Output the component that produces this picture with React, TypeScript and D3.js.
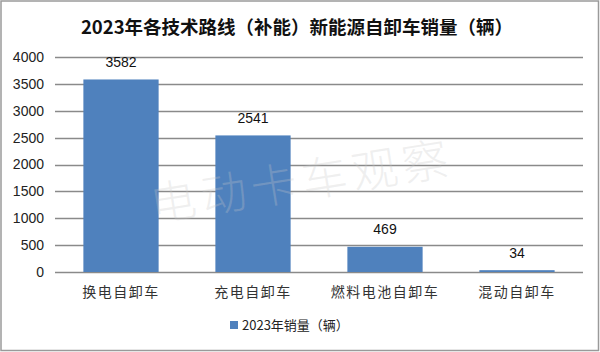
import React from "react";
import * as d3 from "d3";

// chart data
const categories = ["换电自卸车", "充电自卸车", "燃料电池自卸车", "混动自卸车"];
const sales2023 = [3582, 2541, 469, 34];
const yTicks = [0, 500, 1000, 1500, 2000, 2500, 3000, 3500, 4000];
const title = "2023年各技术路线（补能）新能源自卸车销量（辆）";
const seriesName = "2023年销量（辆）";
const watermark = "电动卡车观察";

const W = 600;
const H = 352;
const plot = { left: 55, right: 583, top: 57, bottom: 272 };
const barColor = "#4f81bd";
const gridColor = "#8a8a8a";
const numFont = "'Liberation Sans', Arial, sans-serif";
const cjkFont = "'Noto Sans CJK SC', sans-serif";

export default function App() {
  const x = d3
    .scaleBand<string>()
    .domain(categories)
    .range([plot.left, plot.right])
    .padding(0);
  const y = d3.scaleLinear().domain([0, 4000]).range([plot.bottom, plot.top]);
  const barW = x.bandwidth() * 0.57;

  return (
    <svg
      width={W}
      height={H}
      style={{ position: "absolute", left: 0, top: 0, background: "#fff" }}
    >
      {/* outer frame */}
      <rect x={1} y={1} width={W - 2.5} height={H - 2.5} fill="#fff" stroke="#9a9a9a" strokeWidth={1.5} />

      <text
        x={297}
        y={34}
        textAnchor="middle"
        fontFamily={cjkFont}
        fontWeight={700}
        fontSize={18.5}
        fill="#111"
      >
        {title}
      </text>

      {/* gridlines + y labels */}
      {yTicks.map((t) => (
        <g key={t}>
          <line
            x1={plot.left}
            x2={plot.right}
            y1={Math.round(y(t)) + 0.5}
            y2={Math.round(y(t)) + 0.5}
            stroke={gridColor}
            strokeWidth={1.3}
          />
          <text
            x={44}
            y={y(t)}
            dy="0.35em"
            textAnchor="end"
            fontFamily={numFont}
            fontSize={14}
            fill="#222"
          >
            {t}
          </text>
        </g>
      ))}

      {/* bars */}
      {categories.map((c, i) => {
        const cx = (x(c) as number) + x.bandwidth() / 2;
        return (
          <g key={c}>
            <rect
              x={cx - barW / 2}
              y={y(sales2023[i])}
              width={barW}
              height={y(0) - y(sales2023[i])}
              fill={barColor}
            />
            <text
              x={cx}
              y={y(sales2023[i]) - 12.5}
              textAnchor="middle"
              fontFamily={numFont}
              fontSize={14}
              fill="#111"
            >
              {sales2023[i]}
            </text>
            <text
              x={cx}
              y={297}
              textAnchor="middle"
              fontFamily={cjkFont}
              fontSize={14}
              letterSpacing={1.5}
              fill="#333"
            >
              {c}
            </text>
          </g>
        );
      })}

      {/* watermark */}
      <text
        x={301}
        y={178}
        transform="rotate(-9 301 178)"
        textAnchor="middle"
        dominantBaseline="central"
        fontFamily={cjkFont}
        fontWeight={300}
        fontSize={46}
        letterSpacing={5}
        fill="#c8c8c8"
        fillOpacity={0.28}
      >
        {watermark}
      </text>

      {/* legend */}
      <rect x={230} y={321} width={8} height={8} fill={barColor} />
      <text x={242} y={325} dy="0.35em" fontFamily={cjkFont} fontSize={13} fill="#222">
        {seriesName}
      </text>
    </svg>
  );
}
